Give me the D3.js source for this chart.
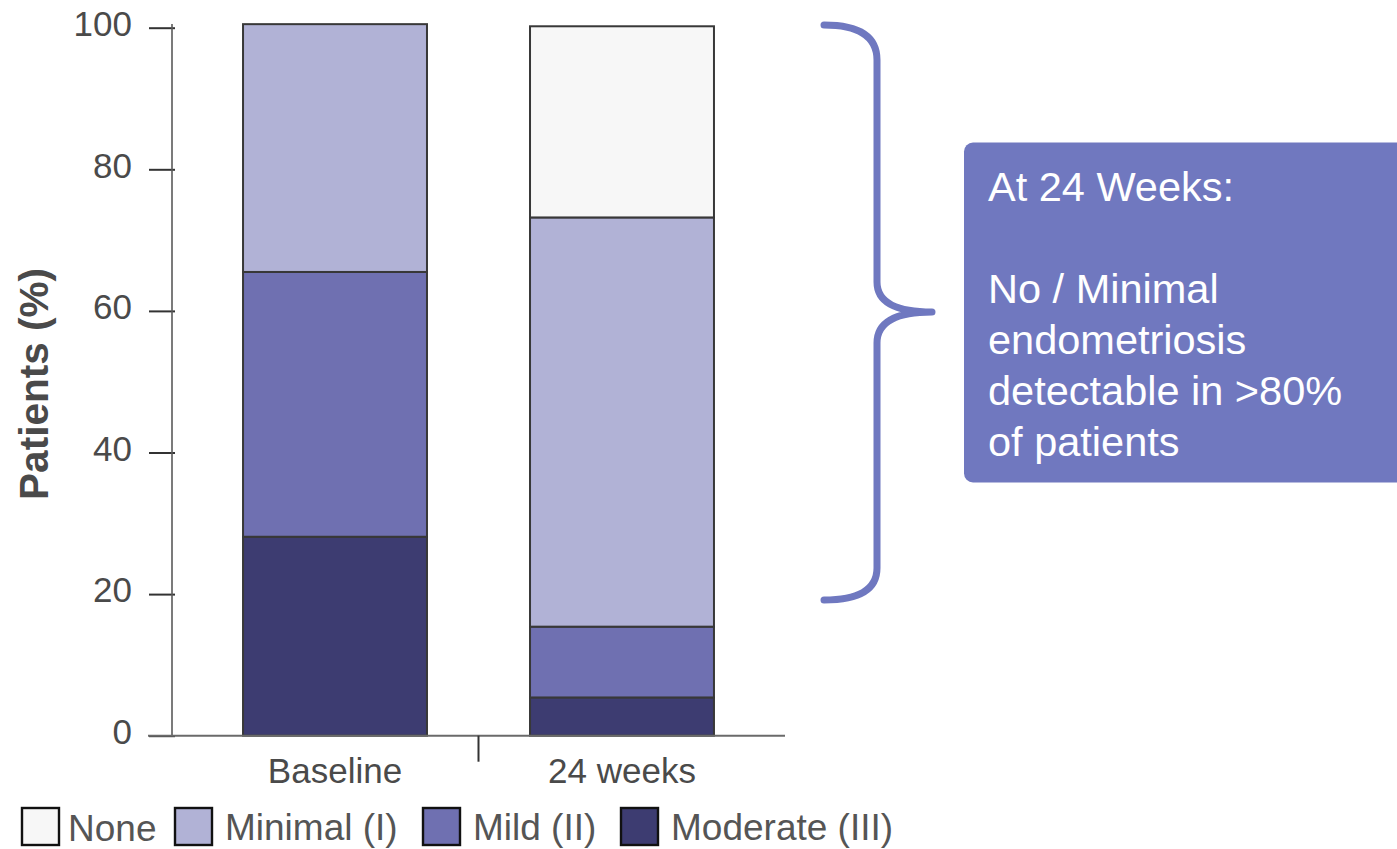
<!DOCTYPE html>
<html>
<head>
<meta charset="utf-8">
<script src="https://cdn.jsdelivr.net/npm/d3@7"></script>
<style>
  html, body { margin: 0; padding: 0; background: #ffffff; }
  svg { display: block; font-family: "Liberation Sans", Arial, sans-serif; }
</style>
</head>
<body>
<svg id="chart" width="1397" height="849"></svg>
<script>
// Endometriosis stage distribution (% of patients), stacked bottom-up
const timepoints = ["Baseline", "24 weeks"];
const stages = ["Moderate (III)", "Mild (II)", "Minimal (I)", "None"];
const moderate = [28.1, 5.4];
const mild = [37.4, 10.0];
const minimal = [35.0, 57.8];
const none = [0, 27.0];
const yTicks = [0, 20, 40, 60, 80, 100];
const legendOrder = ["None", "Minimal (I)", "Mild (II)", "Moderate (III)"];
const noteLines = ["At 24 Weeks:", "", "No / Minimal", "endometriosis", "detectable in >80%", "of patients"];

const stageColor = {
  "None": "#f7f7f7",
  "Minimal (I)": "#b1b2d6",
  "Mild (II)": "#6f70b1",
  "Moderate (III)": "#3d3c71"
};

const svg = d3.select("#chart");

const rows = timepoints.map((t, i) => ({
  time: t,
  "Moderate (III)": moderate[i],
  "Mild (II)": mild[i],
  "Minimal (I)": minimal[i],
  "None": none[i]
}));
const series = d3.stack().keys(stages)(rows);

const x = d3.scaleBand().domain(timepoints).range([172, 785])
  .paddingInner(0.359).paddingOuter(0.2475);
const y = d3.scaleLinear().domain([0, 100]).range([735.7, 27.7]);

// stacked bars
svg.append("g").selectAll("g")
  .data(series)
  .join("g")
  .attr("fill", d => stageColor[d.key])
  .selectAll("rect")
  .data(d => d.filter(s => s[1] - s[0] > 0))
  .join("rect")
  .attr("x", d => x(d.data.time))
  .attr("width", x.bandwidth())
  .attr("y", d => y(d[1]))
  .attr("height", d => y(d[0]) - y(d[1]))
  .attr("stroke", "#383838")
  .attr("stroke-width", 2);

// y axis
const yAxis = svg.append("g")
  .attr("transform", "translate(172,0)")
  .call(d3.axisLeft(y).tickValues(yTicks).tickSizeInner(23).tickSizeOuter(0).tickPadding(17));
yAxis.select(".domain").remove();
yAxis.append("line")
  .attr("x1", 0).attr("x2", 0).attr("y1", 24).attr("y2", y(0))
  .attr("stroke", "#5a5a5a").attr("stroke-width", 1.6);
yAxis.selectAll(".tick line").attr("stroke", "#333").attr("stroke-width", 2)
  .attr("x2", 3).attr("x1", -23);
yAxis.selectAll(".tick text")
  .attr("fill", "#4a4a4a")
  .attr("font-size", 35)
  .attr("dy", "0.22em");

// x axis
svg.append("line")
  .attr("x1", 148).attr("x2", 785).attr("y1", y(0)).attr("y2", y(0))
  .attr("stroke", "#6a6a6a").attr("stroke-width", 2);
const xMid = (x(timepoints[0]) + x.bandwidth() + x(timepoints[1])) / 2;
svg.append("line")
  .attr("x1", xMid).attr("x2", xMid).attr("y1", y(0)).attr("y2", y(0) + 26)
  .attr("stroke", "#333").attr("stroke-width", 2);
svg.append("g").selectAll("text")
  .data(timepoints)
  .join("text")
  .attr("x", d => x(d) + x.bandwidth() / 2)
  .attr("y", 783)
  .attr("text-anchor", "middle")
  .attr("font-size", 35)
  .attr("fill", "#4a4a4a")
  .text(d => d);

// y axis title
svg.append("text")
  .attr("transform", "translate(48,384) rotate(-90)")
  .attr("text-anchor", "middle")
  .attr("font-size", 40.5)
  .attr("font-weight", "bold")
  .attr("fill", "#4a4a4a")
  .text("Patients (%)");

// legend
const legendX = [21, 174, 422, 620];
const legend = svg.append("g").selectAll("g")
  .data(legendOrder)
  .join("g")
  .attr("transform", (d, i) => `translate(${legendX[i]},807)`);
legend.append("rect")
  .attr("x", 1).attr("y", 1).attr("width", 37).attr("height", 37)
  .attr("fill", d => stageColor[d])
  .attr("stroke", "#111").attr("stroke-width", 2.4);
legend.append("text")
  .attr("x", d => d === "None" ? 47 : 51)
  .attr("y", d => d === "None" ? 34 : 33)
  .attr("font-size", 37)
  .attr("fill", "#555")
  .text(d => d);

// curly brace spanning the 24-week bar
const brace = d3.path();
brace.moveTo(824, 25);
brace.quadraticCurveTo(877, 25, 877, 60);
brace.lineTo(877, 282);
brace.quadraticCurveTo(877, 312, 932, 312);
brace.quadraticCurveTo(877, 312, 877, 343);
brace.lineTo(877, 568);
brace.quadraticCurveTo(877, 600, 824, 600);
svg.append("path")
  .attr("d", brace.toString())
  .attr("fill", "none")
  .attr("stroke", "#6f78c0")
  .attr("stroke-width", 7)
  .attr("stroke-linecap", "round")
  .attr("stroke-linejoin", "round");

// call-out box
svg.append("rect")
  .attr("x", 964).attr("y", 142.5).attr("width", 460).attr("height", 340)
  .attr("rx", 9)
  .attr("fill", "#7078bf");
svg.append("g").selectAll("text")
  .data(noteLines)
  .join("text")
  .attr("x", 988)
  .attr("y", (d, i) => 201 + i * 51)
  .attr("font-size", 41.5)
  .attr("fill", "#ffffff")
  .text(d => d);
</script>
</body>
</html>
